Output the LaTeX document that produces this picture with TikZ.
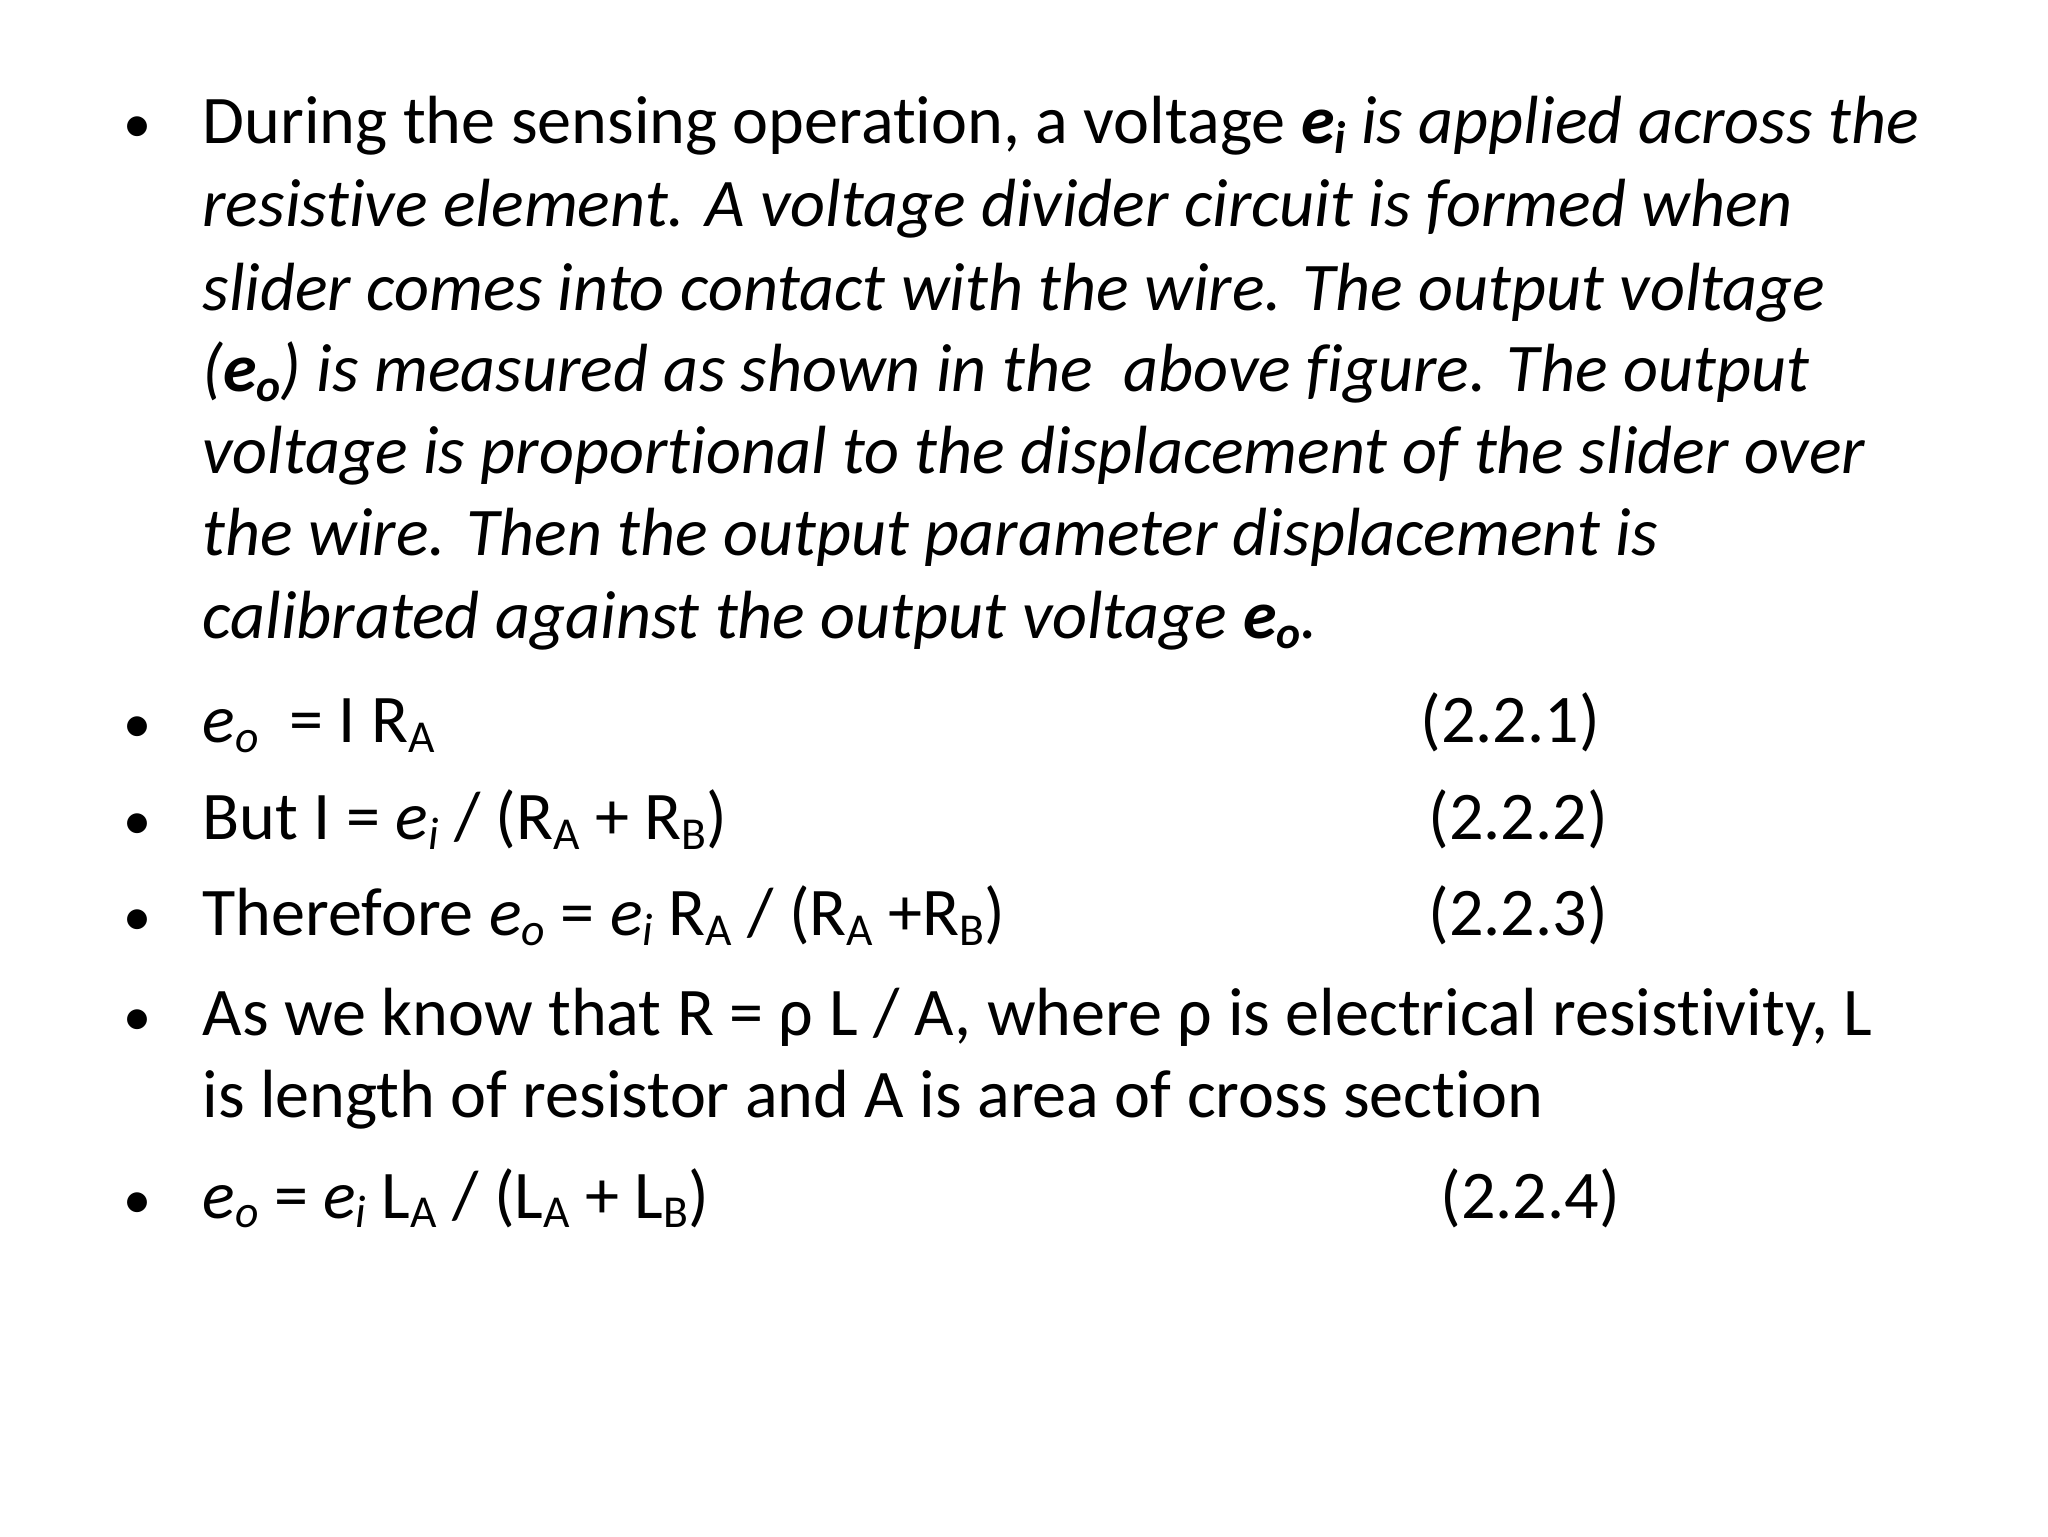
\documentclass[tikz,border=0pt]{standalone}
\usepackage{fontspec}
\setmainfont[RawFeature={-liga;-clig;-calt;-dlig}]{Carlito}
\newcommand{\sbs}[1]{\raisebox{-0.3ex}{\fontsize{13pt}{15pt}\selectfont #1}}
\begin{document}
\begin{tikzpicture}[x=0.013196cm,y=-0.013196cm,
  ln/.style={anchor=base west,inner sep=0pt,font=\fontsize{19.4pt}{23pt}\selectfont},
  bul/.style={anchor=base,inner sep=0pt,font=\fontsize{16pt}{18pt}\selectfont}]
\useasboundingbox (0,0) rectangle (1552,1164);
\foreach \yy/\nm in {108/b1,563/b2,636/b3,709/b4,785/b5,923/b6}
  \node[bul] (\nm) at (104,\yy) {•};
\node[ln] (l1) at (153,109) {During the sensing operation, a voltage \textbf{\textit{e\sbs{i}}} \textit{is applied across the}};
\node[ln] (l2) at (153,172) {\textit{resistive element. A voltage divider circuit is formed when}};
\node[ln] (l3) at (153,235) {\textit{slider comes into contact with the wire. The output voltage}};
\node[ln] (l4) at (153,297) {\textit{(\textbf{e\sbs{o}}) is measured as shown in the\ \ above figure. The output}};
\node[ln] (l5) at (153,359) {\textit{voltage is proportional to the displacement of the slider over}};
\node[ln] (l6) at (153,421) {\textit{the wire. Then the output parameter displacement is}};
\node[ln] (l7) at (153,484) {\textit{calibrated against the output voltage \textbf{e\sbs{o}}.}};
\node[ln] (e1) at (153,563) {\textit{e\sbs{o}}\ \ = I R\sbs{A}};
\node[ln] (n1) at (1076,563) {(2.2.1)};
\node[ln] (e2) at (153,636) {But I = \textit{e\sbs{i}} / (R\sbs{A} + R\sbs{B})};
\node[ln] (n2) at (1082,636) {(2.2.2)};
\node[ln] (e3) at (153,709) {Therefore \textit{e\sbs{o}} = \textit{e\sbs{i}} R\sbs{A} / (R\sbs{A} +R\sbs{B})};
\node[ln] (n3) at (1082,709) {(2.2.3)};
\node[ln] (a1) at (153,785) {As we know that R = ρ L / A, where ρ is electrical resistivity, L};
\node[ln] (a2) at (153,847) {is length of resistor and A is area of cross section};
\node[ln] (e4) at (153,923) {\textit{e\sbs{o}} = \textit{e\sbs{i}} L\sbs{A} / (L\sbs{A} + L\sbs{B})};
\node[ln] (n4) at (1091,923) {(2.2.4)};
\end{tikzpicture}
\end{document}
